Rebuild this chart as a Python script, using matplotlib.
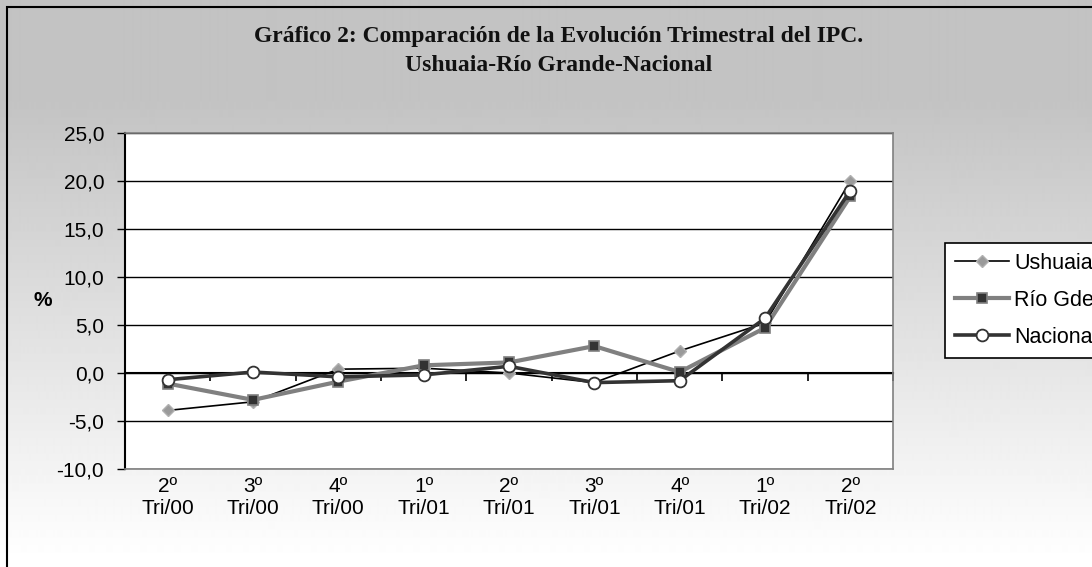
import numpy as np
import matplotlib
matplotlib.use("Agg")
import matplotlib.pyplot as plt
from matplotlib.ticker import FuncFormatter
from matplotlib.patches import Rectangle

# quarterly CPI change (%)
categories = ["2º\nTri/00", "3º\nTri/00", "4º\nTri/00", "1º\nTri/01", "2º\nTri/01",
              "3º\nTri/01", "4º\nTri/01", "1º\nTri/02", "2º\nTri/02"]
ushuaia = [-3.9, -3.0, 0.4, 0.5, 0.0, -1.0, 2.3, 5.2, 20.0]
rio_gde = [-1.1, -2.8, -0.9, 0.8, 1.1, 2.8, 0.1, 4.7, 18.4]
nacional = [-0.7, 0.1, -0.4, -0.2, 0.7, -1.0, -0.8, 5.7, 19.0]
yticks = [-10, -5, 0, 5, 10, 15, 20, 25]

W, H = 1092, 567
FS = 15
fig = plt.figure(figsize=(W / 100, H / 100), dpi=100)
plt.rcParams['font.family'] = ['Liberation Sans', 'DejaVu Sans']

# background gradient (grey on top, white at bottom)
bg = fig.add_axes([0, 0, 1, 1], zorder=0)
rows = np.arange(H)
shade = np.clip(195 + 60 * (rows - 100) / 460, 195, 255) / 255.0
img = np.repeat(shade[:, None], 2, axis=1)
bg.imshow(img, cmap="gray", vmin=0, vmax=1, aspect="auto", extent=[0, 1, 0, 1],
          origin="upper", interpolation="bilinear")
bg.add_patch(Rectangle((7 / W, -0.1), 1.2, 1 - 7 / H + 0.1, fill=False,
                       edgecolor="black", linewidth=1.5, transform=bg.transAxes))
bg.set_axis_off()

# plot area
ax = fig.add_axes([125 / W, (H - 469) / H, 768 / W, 336 / H], zorder=1)
ax.set_facecolor("white")
x = np.arange(len(categories))

ax.plot(x, ushuaia, color="black", lw=1.2, marker="D", markersize=6.5,
        markerfacecolor="#9a9a9a", markeredgecolor="#b0b0b0", label="Ushuaia", zorder=3)
ax.plot(x, rio_gde, color="#808080", lw=3, marker="s", markersize=7.5,
        markerfacecolor="#333333", markeredgecolor="#808080", markeredgewidth=1.2,
        label="Río Gde.", zorder=4)
ax.plot(x, nacional, color="#333333", lw=2.6, marker="o", markersize=8.5,
        markerfacecolor="white", markeredgecolor="#333333", markeredgewidth=1.3,
        label="Nacional", zorder=5)

ax.set_xlim(-0.5, len(categories) - 0.5)
ax.set_ylim(-10, 25)
ax.set_yticks(yticks)
ax.yaxis.set_major_formatter(FuncFormatter(lambda v, p: "{:.1f}".format(v).replace(".", ",")))
ax.tick_params(axis="y", direction="out", length=6, width=1, pad=9, labelsize=FS)
ax.set_xticks(x)
ax.set_xticklabels(categories)
ax.tick_params(axis="x", length=0, pad=6, labelsize=FS)
ax.grid(axis="y", color="black", lw=1)
ax.set_axisbelow(True)

for s in ["top", "right", "bottom"]:
    ax.spines[s].set_color("#808080")
    ax.spines[s].set_linewidth(1.2)
ax.spines["left"].set_color("black")
ax.spines["left"].set_linewidth(1.5)

# category axis crossing at zero with ticks between categories
sec = ax.secondary_xaxis(10 / 35)
sec.set_xticks(np.arange(len(categories) + 1) - 0.5)
sec.set_xticklabels([])
sec.tick_params(direction="out", length=6, width=1.2, color="black")
sec.spines["bottom"].set_color("black")
sec.spines["bottom"].set_linewidth(1.5)

fig.text(43 / W, 1 - 301 / H, "%", fontsize=FS, fontweight="bold", ha="center", va="center")

fig.text(559 / W, 1 - 42 / H, "Gráfico 2: Comparación de la Evolución Trimestral del IPC.",
         ha="center", va="baseline", fontsize=17, fontweight="bold", family="Liberation Serif",
         color="#111111")
fig.text(559 / W, 1 - 71 / H, "Ushuaia-Río Grande-Nacional",
         ha="center", va="baseline", fontsize=17, fontweight="bold", family="Liberation Serif",
         color="#111111")

leg = fig.legend(loc="upper left", bbox_to_anchor=(945 / W, 1 - 243 / H), fontsize=15.5,
                 frameon=True, fancybox=False, edgecolor="black", framealpha=1,
                 handlelength=2.5, handletextpad=0.25, labelspacing=0.75, borderpad=0.45,
                 borderaxespad=0)
leg.get_frame().set_linewidth(1.2)

fig.savefig("out.png", dpi=100)
